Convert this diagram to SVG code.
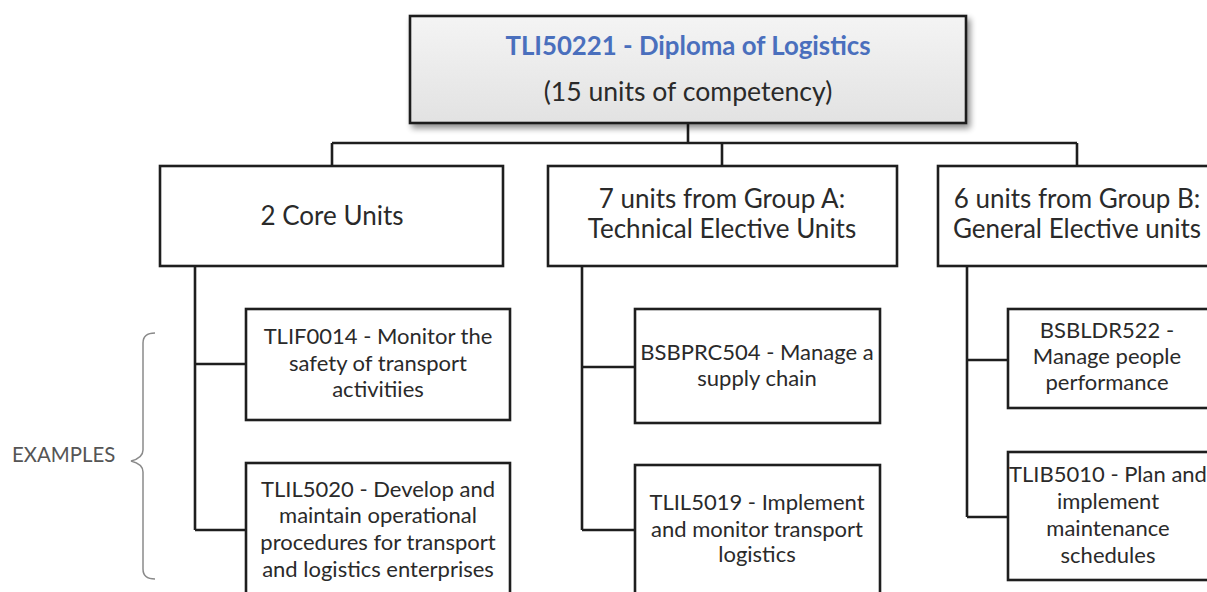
<svg xmlns="http://www.w3.org/2000/svg" width="1207" height="592" viewBox="0 0 1207 592">
  <defs>
    <linearGradient id="topFill" x1="0" y1="0" x2="0" y2="1">
      <stop offset="0" stop-color="#f4f4f4"/>
      <stop offset="1" stop-color="#e2e2e2"/>
    </linearGradient>
    <filter id="shadow" x="-5%" y="-10%" width="115%" height="130%">
      <feGaussianBlur in="SourceAlpha" stdDeviation="3"/>
      <feOffset dx="3" dy="4" result="b"/>
      <feComponentTransfer><feFuncA type="linear" slope="0.45"/></feComponentTransfer>
      <feMerge><feMergeNode/><feMergeNode in="SourceGraphic"/></feMerge>
    </filter>
  </defs>
  <style>
    .box { fill: #ffffff; stroke: #1e1e1e; stroke-width: 2.6; }
    .conn { fill: none; stroke: #1e1e1e; stroke-width: 2.6; }
    .t { font-family: Lato, "Liberation Sans", sans-serif; fill: #2a2a2a; text-anchor: middle; }
    .l2 { font-size: 26px; }
    .l3 { font-size: 22px; }
  </style>
  <rect width="1207" height="592" fill="#ffffff"/>

  <g id="connectors">
    <path class="conn" d="M688,123 V143 M332,143 H1077 M332,143 V166 M722,143 V166 M1077,143 V166"/>
    <path class="conn" d="M195,266 V530 M195,364 H246 M195,530 H246"/>
    <path class="conn" d="M582,266 V530 M582,367 H635 M582,530 H635"/>
    <path class="conn" d="M967,266 V517 M967,360 H1008 M967,517 H1008"/>
  </g>

  <g id="top">
    <rect x="410" y="16" width="556" height="107" fill="url(#topFill)" stroke="#1e1e1e" stroke-width="2.6" filter="url(#shadow)"/>
    <text class="t" x="688" y="55" font-size="25.8" font-weight="bold" style="fill:#4a6fbd">TLI50221 - Diploma of Logistics</text>
    <text class="t" x="688" y="101" font-size="26.6">(15 units of competency)</text>
  </g>

  <g id="core">
    <rect class="box" x="160" y="166" width="343" height="100"/>
    <text class="t l2" x="332" y="225">2 Core Units</text>
  </g>
  <g id="groupA">
    <rect class="box" x="548" y="166" width="349" height="100"/>
    <text class="t l2" x="722" y="208">7 units from Group A:</text>
    <text class="t l2" x="722" y="238">Technical Elective Units</text>
  </g>
  <g id="groupB">
    <rect class="box" x="938" y="166" width="290" height="100"/>
    <text class="t l2" x="1077" y="208">6 units from Group B:</text>
    <text class="t l2" x="1077" y="238">General Elective units</text>
  </g>

  <g id="tlif0014">
    <rect class="box" x="246" y="309" width="264" height="111"/>
    <text class="t l3" x="378" y="344">TLIF0014 - Monitor the</text>
    <text class="t l3" x="378" y="371">safety of transport</text>
    <text class="t l3" x="378" y="397">activitiies</text>
  </g>
  <g id="tlil5020">
    <rect class="box" x="246" y="463" width="264" height="140"/>
    <text class="t l3" x="378" y="497">TLIL5020 - Develop and</text>
    <text class="t l3" x="378" y="523">maintain operational</text>
    <text class="t l3" x="378" y="550">procedures for transport</text>
    <text class="t l3" x="378" y="577">and logistics enterprises</text>
  </g>
  <g id="bsbprc504">
    <rect class="box" x="635" y="309" width="245" height="114"/>
    <text class="t l3" x="757" y="360">BSBPRC504 - Manage a</text>
    <text class="t l3" x="757" y="386">supply chain</text>
  </g>
  <g id="tlil5019">
    <rect class="box" x="635" y="465" width="245" height="140"/>
    <text class="t l3" x="757" y="510">TLIL5019 - Implement</text>
    <text class="t l3" x="757" y="537">and monitor transport</text>
    <text class="t l3" x="757" y="562">logistics</text>
  </g>
  <g id="bsbldr522">
    <rect class="box" x="1008" y="309" width="210" height="99"/>
    <text class="t l3" x="1107" y="338">BSBLDR522 -</text>
    <text class="t l3" x="1107" y="364">Manage people</text>
    <text class="t l3" x="1107" y="390">performance</text>
  </g>
  <g id="tlib5010">
    <rect class="box" x="1008" y="452" width="210" height="128"/>
    <text class="t l3" x="1108" y="482">TLIB5010 - Plan and</text>
    <text class="t l3" x="1108" y="509">implement</text>
    <text class="t l3" x="1108" y="536">maintenance</text>
    <text class="t l3" x="1108" y="563">schedules</text>
  </g>

  <g id="examples">
    <text x="12" y="462" font-family="Lato, 'Liberation Sans', sans-serif" font-size="20.4" fill="#555555">EXAMPLES</text>
    <path d="M155,333 Q143,333 143,343 L143,450 Q143,458 131,461 Q143,464 143,472 L143,569 Q143,579 155,579" fill="none" stroke="#8a8a8a" stroke-width="1.5"/>
  </g>
</svg>
